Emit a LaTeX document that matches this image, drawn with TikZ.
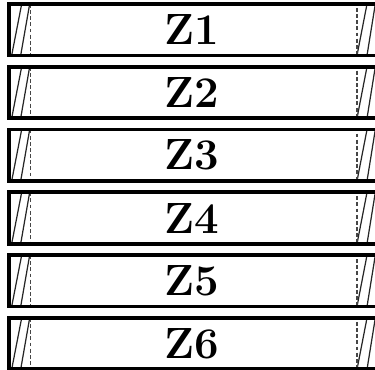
\documentclass[tikz,border=0pt]{standalone}
\usepackage{tikz}
\usetikzlibrary{positioning, calc}
\definecolor{darkGray}{RGB}{70,70,70}

\begin{document}
\begin{tikzpicture}[
  x=0.02cm, y=0.02cm,
  zone/.style={rectangle, minimum width=7.31cm, minimum height=1.014cm, inner sep=0pt, text centered, font=\Huge\bfseries},
  rail/.style={line width=2.1pt, line join=miter},
  slant/.style={line width=0.7pt, black!85},
  seam/.style={line width=0.7pt, darkGray, dash pattern=on 2.2pt off 1.3pt}
]
\useasboundingbox (0,0) rectangle (375,-369);

% Zones
\node (z1) [zone] at (192.25,-29.65) {Z1};
\node (z2) [zone, below=0.228cm of z1] {Z2};
\node (z3) [zone, below=0.228cm of z2] {Z3};
\node (z4) [zone, below=0.228cm of z3] {Z4};
\node (z5) [zone, below=0.228cm of z4] {Z5};
\node (z6) [zone, below=0.228cm of z5] {Z6};

% Break marks and rails
\foreach \z in {z1,z2,z3,z4,z5,z6} {
  \draw [slant] ($(\z.south west)+(2.5,0)$) -- ($(\z.north west)+(12.5,0)$);
  \draw [slant] ($(\z.south west)+(11.5,0)$) -- ($(\z.north west)+(20.5,0)$);
  \draw [seam] ($(\z.north west)+(21.5,0)$) -- ($(\z.south west)+(21.5,0)$);
  \draw [slant] ($(\z.south east)+(-18.3,0)$) -- ($(\z.north east)+(-8.3,0)$);
  \draw [slant] ($(\z.south east)+(-8.3,0)$) -- (\z.north east);
  \draw [seam] ($(\z.north east)+(-18.3,-4)$) -- ($(\z.south east)+(-18.3,0)$);
  \draw [rail] (\z.north east) -- (\z.north west) -- (\z.south west) -- (\z.south east);
}

\end{tikzpicture}
\end{document}
